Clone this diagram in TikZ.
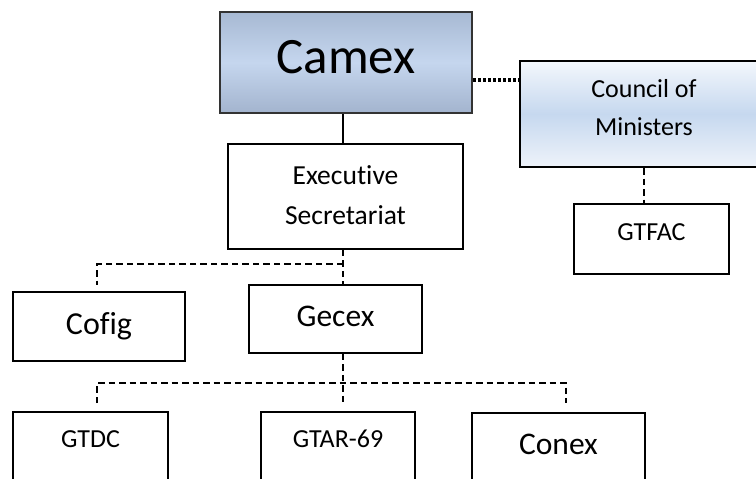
\documentclass[tikz,border=0pt]{standalone}
\usepackage{fontspec}
\setmainfont{Carlito}[Ligatures=NoCommon]
\usepackage{xcolor}
\usepackage{tikz}
\usetikzlibrary{positioning}

\definecolor{camexedge}{HTML}{333333}
\definecolor{camextop}{HTML}{A7B9D3}
\definecolor{camexmid}{HTML}{C5D6EE}
\definecolor{camexbot}{HTML}{A3B4CE}
\definecolor{counciltop}{HTML}{F3F7FC}
\definecolor{councilmid}{HTML}{C6D8EF}
\definecolor{councilbot}{HTML}{EEF3FA}

\tikzset{
  unit/.style={draw, line width=1.8pt, inner sep=0pt, anchor=north},
  dashline/.style={line width=1.6pt, dash pattern=on 6.5pt off 4pt},
  dotline/.style={line width=3.2pt, dash pattern=on 3pt off 2pt},
}

\begin{document}
\begin{tikzpicture}[x=1pt,y=-1pt]
\useasboundingbox (0,0) rectangle (756,479);
\clip (0,0) rectangle (756,479);

\node[unit, draw=camexedge, line width=2pt, top color=camextop, bottom color=camexbot, middle color=camexmid,
      minimum width=252pt, text height=61pt, text depth=40pt, font=\fontsize{51}{60}\selectfont] (camex) at (346,11) {Camex};
\node[unit, anchor=center, line width=2pt, top color=counciltop, bottom color=councilbot, middle color=councilmid,
      minimum width=248pt, minimum height=106pt, align=center, font=\fontsize{26}{38}\selectfont] (council) at (644,114)
      {Council of\\Ministers\rule[-14pt]{0pt}{0pt}};
\node[unit, anchor=center, minimum width=235pt, minimum height=105pt, align=center,
      font=\fontsize{27.5}{40}\selectfont] (execsec) at (345.5,196.5) {Executive\\Secretariat\rule[-3pt]{0pt}{0pt}};
\node[unit, minimum width=155pt, text height=37pt, text depth=33pt, font=\fontsize{26}{30}\selectfont] (gtfac) at (651.5,203) {GTFAC};
\node[unit, minimum width=172pt, text height=43pt, text depth=26pt, font=\fontsize{32}{36}\selectfont] (cofig) at (99,291) {Cofig};
\node[unit, minimum width=173pt, text height=42pt, text depth=26pt, font=\fontsize{31.5}{36}\selectfont] (gecex) at (335.5,284) {Gecex};
\node[unit, minimum width=155pt, text height=36pt, text depth=80pt, font=\fontsize{26}{30}\selectfont] (gtdc) at (90.5,411) {GTDC};
\node[unit, minimum width=154pt, text height=36pt, text depth=80pt, font=\fontsize{26}{30}\selectfont] (gtar) at (338,411) {GTAR-69};
\node[unit, minimum width=173pt, text height=42pt, text depth=80pt, font=\fontsize{31.5}{36}\selectfont] (conex) at (558.5,412) {Conex};

\coordinate (dotlevel) at (0,80);
\coordinate (upfork) at (343,264);
\coordinate (cofigstub) at (97,285);
\coordinate (lowfork) at (343,383);
\coordinate (gtdcstub) at (97,403);
\coordinate (gtarstub) at (343,403);
\coordinate (conexstub) at (566,403);

\draw[line width=1.5pt] (camex.south -| upfork) -- (execsec.north -| upfork);
\draw[dotline] (camex.east |- dotlevel) -- (council.west |- dotlevel);
\draw[dashline] (council.south) -- (council.south |- gtfac.north);
\draw[dashline] (execsec.south -| upfork) -- (gecex.north -| upfork);
\draw[dashline] (upfork) -| (cofigstub);
\draw[dashline] (gecex.south -| lowfork) -- (gtarstub);
\draw[dashline] (gtdcstub) |- (lowfork) -| (conexstub);
\end{tikzpicture}
\end{document}
